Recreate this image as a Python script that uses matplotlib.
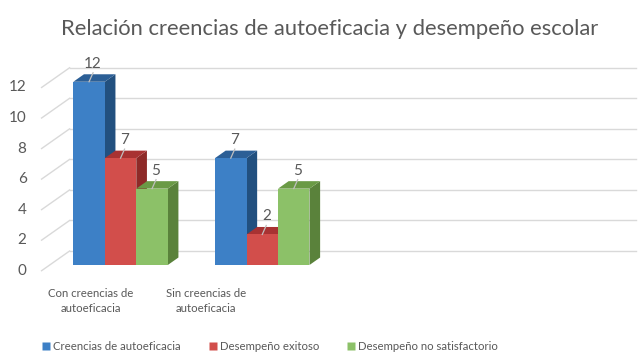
import numpy as np
import matplotlib.pyplot as plt
from matplotlib.patches import Polygon, Rectangle
from matplotlib.lines import Line2D

# ── DATA ────────────────────────────────────────────────────
categories = ['Con creencias de\nautoeficacia', 'Sin creencias de\nautoeficacia', '', '']
series = ['Creencias de autoeficacia', 'Desempeño exitoso', 'Desempeño no satisfactorio']
values = {
    'Creencias de autoeficacia':  [12, 7, None, None],
    'Desempeño exitoso':          [7, 2, None, None],
    'Desempeño no satisfactorio': [5, 5, None, None],
}
y_ticks = [0, 2, 4, 6, 8, 10, 12]

# ── STYLE ───────────────────────────────────────────────────
FONT = 'Lato'
TXT = '#595959'
GRID = '#d9d9d9'
faces = {  # front, top, side
    'Creencias de autoeficacia':  ('#3d80c6', '#2c5f96', '#22507f'),
    'Desempeño exitoso':          ('#d24e4b', '#a83232', '#8e2a28'),
    'Desempeño no satisfactorio': ('#8cc168', '#6a9a45', '#5a823b'),
}

W, H = 643, 362
PX_CAT = 141.7     # pixels per category on the front plane
PX_VAL = 15.27     # pixels per unit value
X0, Y0 = 49.7, 265  # front plane origin in image pixels

fig = plt.figure(figsize=(W / 100, H / 100), dpi=100)
ax = fig.add_axes([X0 / W, (H - Y0) / H, 4 * PX_CAT / W, 12 * PX_VAL / H])
ax.set_xlim(0, 4)
ax.set_ylim(0, 12)
ax.axis('off')

def dx(px): return px / PX_CAT
def dy(px): return px / PX_VAL

# depth vector of the full floor (front edge -> back wall), and bar plane
DEP = (dx(28), dy(19.7))
t_front, t_bar = 0.29, 0.38   # bar front depth position, bar depth

def shift(x, y, t):
    return x + DEP[0] * (t - t_front), y + DEP[1] * (t - t_front)

# walls: back gridlines + side wall diagonals
for v in y_ticks:
    xb, yb = shift(0, v, 1.0)
    xf, yf = shift(0, v, 0.0)
    xe, _ = shift(4, v, 1.0)
    ax.plot([xb, xe], [yb, yb], color=GRID, lw=1, clip_on=False, zorder=1)
    ax.plot([xf, xb], [yf, yb], color=GRID, lw=1, clip_on=False, zorder=1)
    ax.text(xf - dx(15), yf, str(v), ha='right', va='center', fontsize=11,
            color=TXT, family=FONT)

# bars
bw = 2 / 9
for j, s in enumerate(series):
    fc, tc, sc = faces[s]
    for i, v in enumerate(values[s]):
        if v is None:
            continue
        x1 = i + 0.5 - 1.5 * bw + j * bw
        x2 = x1 + bw
        bx1, by1 = shift(x1, v, t_front + t_bar)
        bx2, _ = shift(x2, v, t_front + t_bar)
        _, by0 = shift(x2, 0, t_front + t_bar)
        z = 3 + j
        ax.add_patch(Polygon([(x2, 0), (x2, v), (bx2, by1), (bx2, by0)],
                             closed=True, fc=sc, ec='none', zorder=z, clip_on=False))
        ax.add_patch(Polygon([(x1, v), (x2, v), (bx2, by1), (bx1, by1)],
                             closed=True, fc=tc, ec='none', zorder=z, clip_on=False))
        ax.add_patch(Rectangle((x1, 0), bw, v, fc=fc, ec='none', zorder=z + 0.5,
                               clip_on=False))
        xc = (x1 + x2) / 2
        ax.plot([xc, xc + dx(4)], [v, v + dy(9)], color='#bfbfbf', lw=0.9,
                zorder=10, clip_on=False)
        ax.text(xc + dx(4), v + dy(11), str(v), ha='center', va='bottom',
                fontsize=11, color=TXT, family=FONT, zorder=11)

# category labels
for i, c in enumerate(categories):
    if not c:
        continue
    ax.text(dx(91 - X0) + i * dx(115), dy(-36), c, ha='center', va='center',
            fontsize=8.2, color=TXT, family=FONT, linespacing=1.45)

# title
fig.text(0.513, 1 - 29 / H, 'Relación creencias de autoeficacia y desempeño escolar',
         ha='center', va='center', fontsize=15.8, color=TXT, family=FONT)

# legend
handles = [Line2D([], [], ls='none', marker='s', markersize=5.2,
                  markerfacecolor=faces[s][0], markeredgecolor='none') for s in series]
leg = fig.legend(handles, series, loc='center', bbox_to_anchor=(270 / W, 1 - 346 / H),
                 ncol=3, frameon=False, handletextpad=0.25, columnspacing=2.45,
                 handlelength=0.7, prop={'family': FONT, 'size': 8.2})
for t in leg.get_texts():
    t.set_color(TXT)

fig.savefig('out.png', dpi=100, facecolor='white')
